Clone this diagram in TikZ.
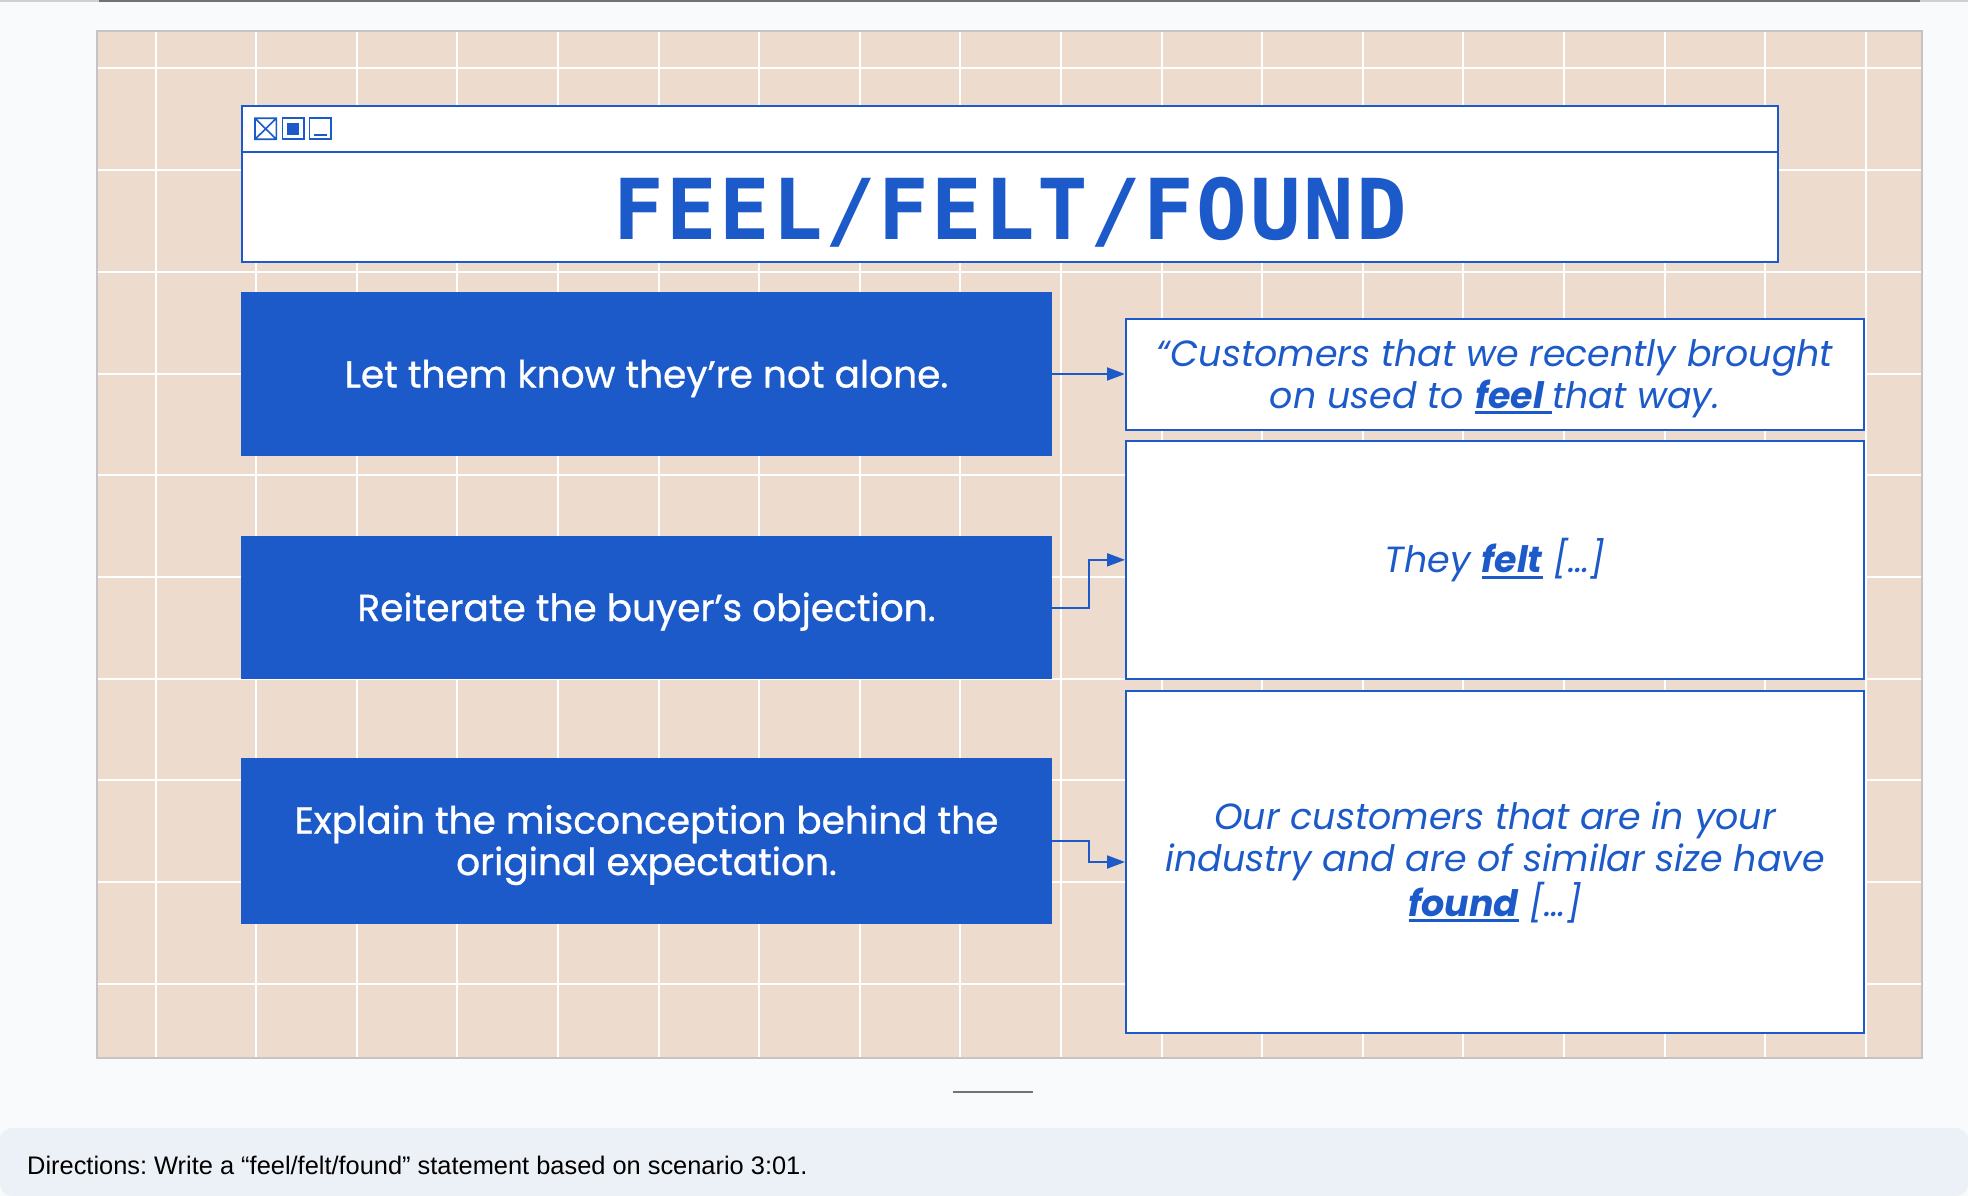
\documentclass[tikz,border=0pt]{standalone}
\usepackage{fontspec}
\usetikzlibrary{arrows.meta}
\setmainfont{Poppins}
\newfontfamily\medfont{Poppins}[FakeBold=0.8]
\newfontfamily\titlefont{DejaVu Sans Mono}[LetterSpace=3]
\newfontfamily\dirfont{Liberation Sans}
\frenchspacing
\definecolor{pagebg}{RGB}{248,250,252}
\definecolor{panelfill}{RGB}{237,220,206}
\definecolor{panelline}{RGB}{196,196,198}
\definecolor{mainblue}{RGB}{28,90,201}
\definecolor{barfill}{RGB}{236,240,247}
\definecolor{topdark}{RGB}{112,114,120}
\definecolor{toplight}{RGB}{205,207,212}
\newcommand\myul[1]{\sbox0{#1}\rlap{\rule[-6pt]{\wd0}{3pt}}\usebox0}
\tikzset{
  gridline/.style={white, line width=2pt},
  bluebox/.style={fill=mainblue, draw=none, inner sep=0pt, text=white, align=center,
    minimum width=811pt, text height=27pt, text depth=0pt, font=\medfont\fontsize{37.5}{41.5}\selectfont},
  quotebox/.style={fill=white, draw=mainblue, line width=2pt, inner sep=0pt, text=mainblue,
    align=center, minimum width=738pt, text height=25.5pt, text depth=0pt, font=\fontsize{36.4}{42}\selectfont\itshape},
  conn/.style={draw=mainblue, line width=2pt, -{Triangle[length=18pt,width=13pt]}},
  winicon/.style={draw=mainblue, line width=1.6pt},
}
\begin{document}
\begin{tikzpicture}[x=1pt,y=-1pt]
\useasboundingbox (0,0) rectangle (1968,1196);
\fill[pagebg] (0,0) rectangle (1968,1196);
% top strip
\fill[toplight] (0,0) rectangle (1968,2);
\fill[topdark] (99,0) rectangle (1920,2);
% panel with grid
\fill[panelfill] (97,31) rectangle (1922,1058);
\foreach \i in {0,...,17} \draw[gridline] ({155.5+100.6*\i},32) -- ({155.5+100.6*\i},1057);
\foreach \j in {0,...,9} \draw[gridline] (98,{68.5+101.7*\j}) -- (1921,{68.5+101.7*\j});
\draw[panelline, line width=2pt] (97,31) rectangle (1922,1058);
% title window
\node[fill=white, draw=mainblue, line width=2pt, inner sep=0pt, minimum width=1536pt, minimum height=156pt] (win) at (1009.85,183.7) {};
\draw[mainblue, line width=2pt] (win.west |- 0,151.7) -- (win.east |- 0,151.7);
\draw[winicon] (255,118.3) rectangle (276.3,139.3) (255,118.3) -- (276.3,139.3) (255,139.3) -- (276.3,118.3);
\draw[winicon] (282.3,118.3) rectangle (303.7,139.3);
\fill[mainblue] (286.7,122.7) rectangle (299.3,134.7);
\draw[winicon] (309.3,118.3) rectangle (330.7,139.3) (314,135.3) -- (326.7,135.3);
\node[anchor=base, inner sep=0pt, text=mainblue, font=\titlefont\bfseries\fontsize{84}{84}\selectfont] (title) at (1010,239) {FEEL/FELT/FOUND};
% left boxes
\node[bluebox, minimum height=164pt] (lb1) at (646.5,374) {Let them know they’re not alone.};
\node[bluebox, minimum height=143pt] (lb2) at (646.5,607.5) {Reiterate the buyer’s objection.};
\node[bluebox, minimum height=165.5pt, text height=68.5pt] (lb3) at (646.5,840.75) {Explain the misconception behind the\\original expectation.};
% right boxes
\node[quotebox, minimum height=110.7pt, text height=67.5pt] (ra) at (1495,374.35) {“Customers that we recently brought\\on used to \myul{\bfseries feel\ }that way.};
\node[quotebox, minimum height=238.3pt] (rb) at (1495,559.85) {They \myul{\bfseries felt} […]};
\node[quotebox, minimum height=342.6pt, text height=108pt] (rc) at (1495,862) {Our customers that are in your\\industry and are of similar size have\\\myul{\bfseries found} […]};
% connectors
\draw[conn] (lb1.east) -- (lb1.east -| ra.west);
\draw[conn] (lb2.east) -- ++(37,0) |- (rb.west);
\draw[conn] (lb3.east) -- ++(37,0) |- (rc.west);
% scroll indicator
\coordinate (sl) at (953,1092);
\coordinate (sr) at (1033,1092);
\draw[topdark, line width=2.5pt] (sl) -- (sr);
% directions bar
\fill[barfill, rounded corners=12pt] (0,1196) |- (1968,1128) -- (1968,1196) -- cycle;
\node[anchor=base west, inner sep=0pt, font=\dirfont\fontsize{25.4}{25.4}\selectfont] (dir) at (27,1174) {Directions: Write a “feel/felt/found” statement based on scenario 3:01.};
\end{tikzpicture}
\end{document}
